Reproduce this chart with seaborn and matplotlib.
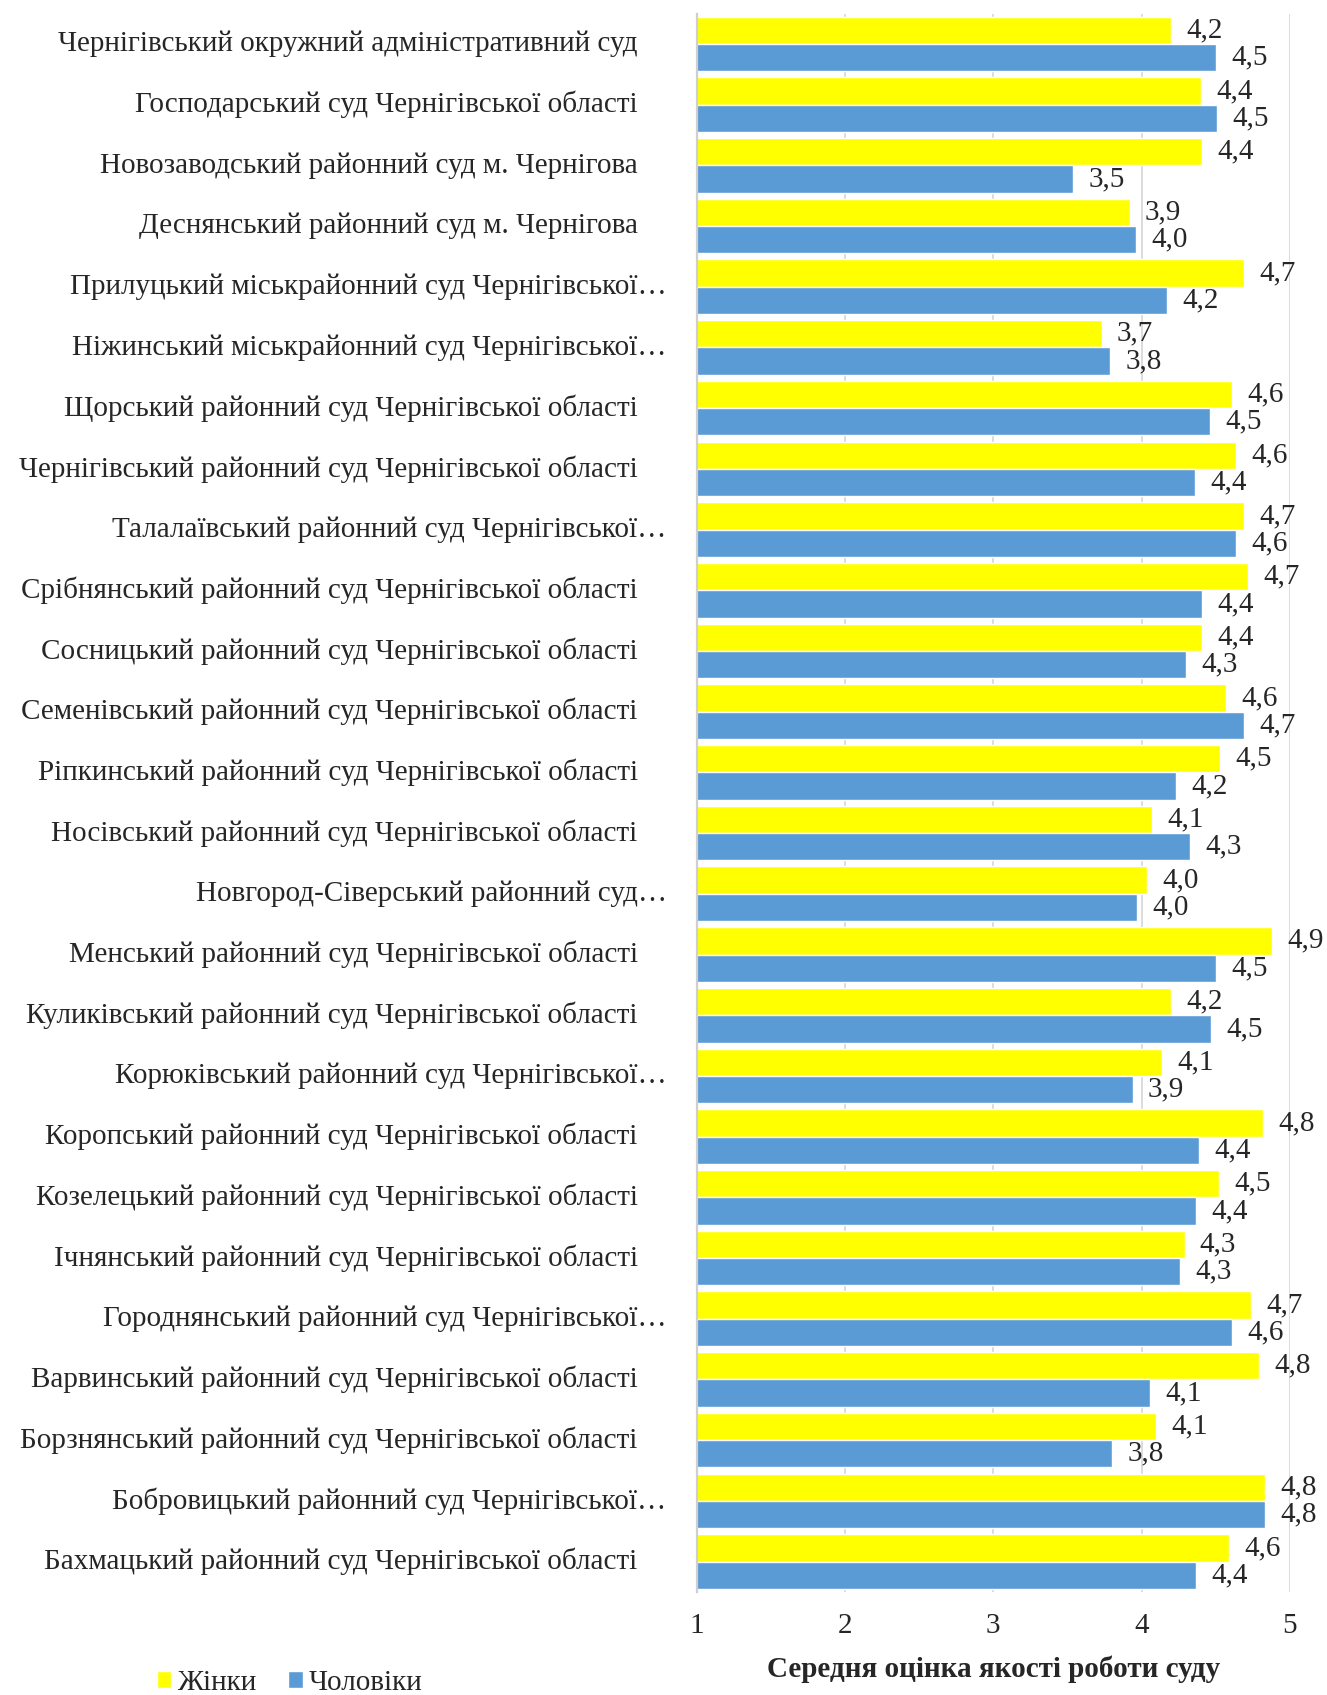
import pandas as pd
import matplotlib.pyplot as plt
import seaborn as sns

# суди (зверху вниз)
courts = [
    "Чернігівський окружний адміністративний суд",
    "Господарський суд Чернігівської області",
    "Новозаводський районний суд м. Чернігова",
    "Деснянський районний суд м. Чернігова",
    "Прилуцький міськрайонний суд Чернігівської…",
    "Ніжинський міськрайонний суд Чернігівської…",
    "Щорський районний суд Чернігівської області",
    "Чернігівський районний суд Чернігівської області",
    "Талалаївський районний суд Чернігівської…",
    "Срібнянський районний суд Чернігівської області",
    "Сосницький районний суд Чернігівської області",
    "Семенівський районний суд Чернігівської області",
    "Ріпкинський районний суд Чернігівської області",
    "Носівський районний суд Чернігівської області",
    "Новгород-Сіверський районний суд…",
    "Менський районний суд Чернігівської області",
    "Куликівський районний суд Чернігівської області",
    "Корюківський районний суд Чернігівської…",
    "Коропський районний суд Чернігівської області",
    "Козелецький районний суд Чернігівської області",
    "Ічнянський районний суд Чернігівської області",
    "Городнянський районний суд Чернігівської…",
    "Варвинський районний суд Чернігівської області",
    "Борзнянський районний суд Чернігівської області",
    "Бобровицький районний суд Чернігівської…",
    "Бахмацький районний суд Чернігівської області",
]

women = [4.20, 4.40, 4.41, 3.92, 4.69, 3.73, 4.61, 4.64, 4.69, 4.72, 4.41, 4.57, 4.53,
         4.07, 4.04, 4.88, 4.20, 4.14, 4.82, 4.52, 4.29, 4.74, 4.79, 4.10, 4.83, 4.59]
men = [4.50, 4.51, 3.54, 3.96, 4.17, 3.79, 4.46, 4.36, 4.64, 4.41, 4.30, 4.69, 4.23,
       4.33, 3.97, 4.50, 4.47, 3.94, 4.39, 4.37, 4.26, 4.61, 4.06, 3.80, 4.83, 4.37]

groups = ["Жінки", "Чоловіки"]
colors = ["#FFFF00", "#5B9BD5"]

df = pd.DataFrame({
    "court": courts * 2,
    "score": women + men,
    "group": [groups[0]] * len(courts) + [groups[1]] * len(courts),
})

sns.set_theme(style="white")
plt.rcParams["font.family"] = ["Liberation Serif", "DejaVu Serif"]
FS = 21

fig = plt.figure(figsize=(13.27, 16.95), dpi=100)
ax = fig.add_axes([0.525, 0.0608, 0.447, 0.9312])

sns.barplot(data=df, y="court", x="score", hue="group", hue_order=groups,
            palette=colors, order=courts, orient="h", width=0.9,
            saturation=1, ax=ax)

ax.set_xlim(1, 5)
ax.set_xticks([1, 2, 3, 4, 5])
ax.tick_params(axis="x", labelsize=FS, pad=15, length=0)
ax.tick_params(axis="y", left=False, labelleft=False)
ax.set_ylabel("")
ax.set_xlabel("Середня оцінка якості роботи суду", fontsize=FS, fontweight="bold", labelpad=12)

ax.xaxis.grid(True, color="#D9D9D9", linewidth=1.3)
ax.set_axisbelow(True)
for s in ["top", "right", "bottom"]:
    ax.spines[s].set_visible(False)
ax.spines["left"].set_color("#CFCFCF")
ax.spines["left"].set_linewidth(1.6)

# підписи значень
for cont, vals in zip(ax.containers, [women, men]):
    ax.bar_label(cont, labels=[f"{v:.1f}".replace(".", ",") for v in vals],
                 padding=11, fontsize=FS)

# назви судів (обрізані з «…» стоять трохи правіше, як в Excel)
ytr = ax.get_yaxis_transform()
for i, name in enumerate(courts):
    xpos = -0.0506 if name.endswith("…") else -0.0995
    ax.text(xpos, i, name, transform=ytr, ha="right", va="center", fontsize=FS)

handles, labels = ax.get_legend_handles_labels()
ax.legend_.remove()
fig.legend(handles, labels, loc="center left", bbox_to_anchor=(0.118, 0.007),
           ncol=2, frameon=False, fontsize=FS, handlelength=0.5, handleheight=0.5,
           handletextpad=0.2, columnspacing=1.1, borderpad=0, borderaxespad=0)

fig.savefig("out.png", dpi=100, facecolor="white")
